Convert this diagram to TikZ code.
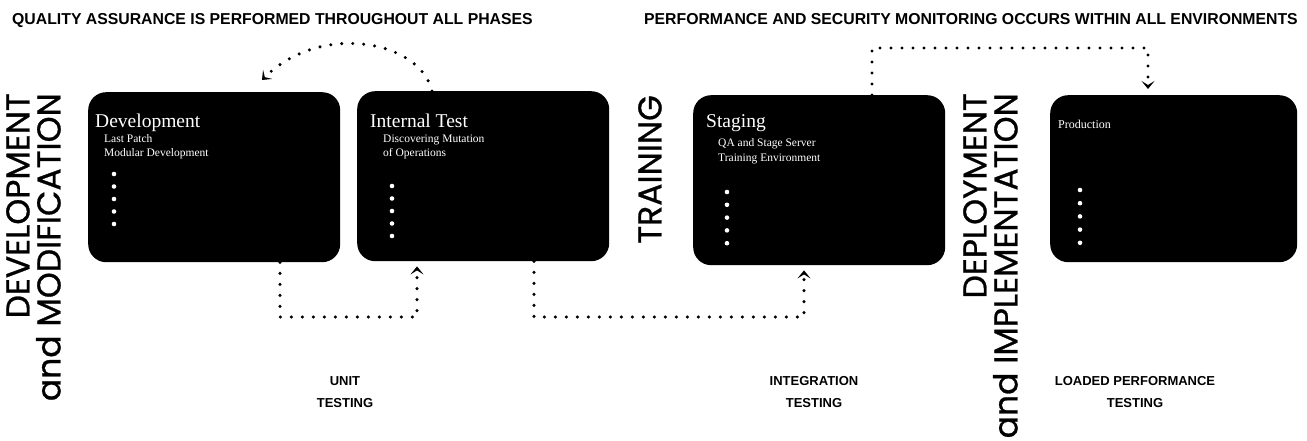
\documentclass[tikz,border=0pt]{standalone}
\usepackage{fontspec}
\setmainfont{Liberation Serif}
\newfontfamily\popfont[FakeBold=0.8]{Poppins}
\newfontfamily\hdfont{Liberation Sans}
\usetikzlibrary{arrows.meta,calc}
\begin{document}
\begin{tikzpicture}[x=1pt,y=-1pt,
  phase/.style={fill=black, rounded corners=18pt, anchor=north west, inner sep=0pt, minimum width=252pt, minimum height=170pt},
  ttl/.style={anchor=base west, text=white, inner sep=0pt, font=\fontsize{19.5}{21}\selectfont},
  sub/.style={anchor=base west, text=white, inner sep=0pt, font=\fontsize{11.5}{13}\selectfont},
  hdr/.style={inner sep=0pt, font=\hdfont\bfseries\fontsize{15.8}{18}\selectfont},
  lbl/.style={inner sep=0pt, align=center, font=\hdfont\bfseries\fontsize{13}{22}\selectfont},
  big/.style={inner sep=0pt, rotate=90, anchor=north east, align=right, font=\popfont\fontsize{33}{31}\selectfont},
  dots/.style={line width=3.4pt, dash pattern=on 0pt off 11pt, line cap=round},
  tip/.style={-{Stealth[length=8pt,width=13pt,inset=4pt]}}
]
\useasboundingbox (0,0) rectangle (1307,441);

% headers
\node[hdr, anchor=base west] (hqa) at (12,25) {QUALITY ASSURANCE IS PERFORMED THROUGHOUT ALL PHASES};
\node[hdr, anchor=base east] (hpm) at (1298,25) {PERFORMANCE AND SECURITY MONITORING OCCURS WITHIN ALL ENVIRONMENTS};

% vertical phase labels
\node[big] (ldev) at (6,93) {DEVELOPMENT\\and MODIFICATION};
\node[big] (ltr) at (638,95) {TRAINING};
\node[big] (ldep) at (963,93) {DEPLOYMENT\\and IMPLEMENTATION};

% boxes
\node[phase] (dev) at (88,92) {};
\node[phase] (it) at (357,91) {};
\node[phase] (stg) at (693,95) {};
\node[phase, minimum width=247pt, minimum height=167pt] (prod) at (1050,95) {};

% box texts
\node[ttl] (devT) at (95,128) {Development};
\node[sub] (devS1) at (104,143) {Last Patch};
\node[sub] (devS2) at (104,157) {Modular Development};
\foreach \y in {0,1,2,3,4} \fill[white] (114,{174+12.5*\y}) circle (2.3pt);

\node[ttl] (itT) at (370,128) {Internal Test};
\node[sub] (itS1) at (383,143) {Discovering Mutation};
\node[sub] (itS2) at (383,157) {of Operations};
\foreach \y in {0,1,2,3,4} \fill[white] (392,{186+12.5*\y}) circle (2.3pt);

\node[ttl] (stT) at (706,128) {Staging};
\node[sub] (stS1) at (718,147) {QA and Stage Server};
\node[sub] (stS2) at (718,161) {Training Environment};
\foreach \y in {0,1,2,3,4} \fill[white] (727,{192+12.8*\y}) circle (2.3pt);

\node[ttl, font=\fontsize{12}{14}\selectfont] (prT) at (1058,129) {Production};
\foreach \y in {0,1,2,3,4} \fill[white] (1080,{190+13.2*\y}) circle (2.3pt);

% bottom labels
\node[lbl] (lunit) at (345,392) {UNIT\\TESTING};
\node[lbl] (lint) at (814,392) {INTEGRATION\\TESTING};
\node[lbl] (lload) at (1135,392) {LOADED PERFORMANCE\\TESTING};

% connectors
\coordinate (ua) at (280,317);
\coordinate (ub) at (417,317);
\draw[dots,tip] (dev.south -| ua) -- (ua) -- (ub) -- ([yshift=-5pt]it.south -| ub);

\coordinate (ia) at (534,317);
\coordinate (ib) at (804,317);
\draw[dots,tip] (it.south -| ia) -- (ia) -- (ib) -- ([yshift=-5pt]stg.south -| ib);

\coordinate (ma) at (872,48);
\coordinate (mb) at (1148,48);
\draw[dots,tip] (stg.north -| ma) -- (ma) -- (mb) -- ([yshift=6pt]prod.north -| mb);

\coordinate (qa) at (432,0);
\coordinate (qb) at (262,0);
\draw[dots,tip] (it.north -| qa) .. controls (420,40) and (320,22) .. ([yshift=12pt]dev.north -| qb);
\end{tikzpicture}
\end{document}
